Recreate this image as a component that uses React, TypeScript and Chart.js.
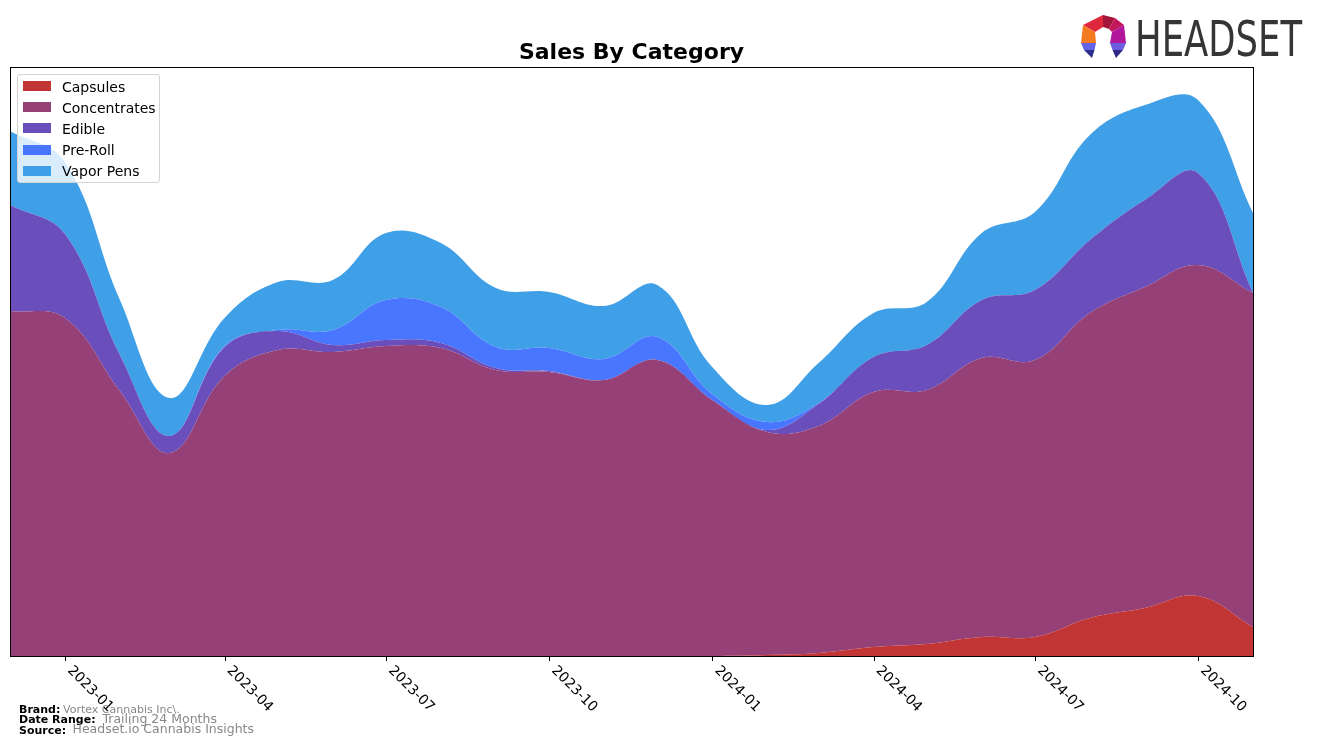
import React, { useEffect, useRef } from "react";
import { Chart, registerables } from "chart.js";

Chart.register(...registerables);

// ---- Data ----
const months = [
  "2022-12", "2023-01", "2023-02", "2023-03", "2023-04", "2023-05", "2023-06", "2023-07",
  "2023-08", "2023-09", "2023-10", "2023-11", "2023-12", "2024-01", "2024-02", "2024-03",
  "2024-04", "2024-05", "2024-06", "2024-07", "2024-08", "2024-09", "2024-10", "2024-11",
];
const capsules = [0, 0, 0, 0, 0, 0, 0, 0, 0, 0, 0, 0, 0, 0, 1, 3, 9, 12, 19, 19, 38, 48, 60, 29];
const concentrates = [345, 338, 265, 203, 280, 306, 304, 310, 308, 286, 284, 276, 296, 256, 223, 227, 255, 254, 279, 277, 305, 321, 331, 334];
const edible = [106, 84, 36, 17, 29, 19, 7, 6, 5, 2, 1, 0, 0, 0, 2, 22, 35, 45, 58, 70, 73, 87, 92, 0];
const preRoll = [0, 0, 0, 0, 1, 1, 15, 40, 36, 21, 23, 21, 23, 6, 8, 1, 0, 0, 0, 0, 0, 0, 0, 0];
const vaporPens = [74, 72, 55, 38, 28, 48, 50, 67, 64, 59, 56, 53, 52, 27, 17, 40, 44, 43, 67, 78, 105, 95, 73, 80];
const tickLabels = ["2023-01", "2023-04", "2023-07", "2023-10", "2024-01", "2024-04", "2024-07", "2024-10"];

const seriesNames = ["Capsules", "Concentrates", "Edible", "Pre-Roll", "Vapor Pens"];
const seriesColors = ["#C13535", "#954177", "#6A4EBB", "#4876FF", "#3FA0E8"];
const seriesValues = [capsules, concentrates, edible, preRoll, vaporPens];
const yMax = 589;

function toTs(m: string): number {
  const [y, mo] = m.split("-").map(Number);
  return Date.UTC(y, mo - 1, 1);
}

const axisPlugin = {
  id: "axisDecor",
  afterDraw(chart: any) {
    const { ctx, chartArea: a, scales } = chart;
    const xs = scales.x;
    ctx.save();
    ctx.strokeStyle = "#000";
    ctx.lineWidth = 1;
    ctx.strokeRect(a.left + 0.5, a.top + 0.5, a.right - a.left, a.bottom - a.top);
    ctx.font = '14px "DejaVu Sans"';
    ctx.fillStyle = "#000";
    ctx.textAlign = "left";
    ctx.textBaseline = "alphabetic";
    for (const t of tickLabels) {
      const x = xs.getPixelForValue(toTs(t));
      const px = Math.round(x) + 0.5;
      ctx.beginPath();
      ctx.moveTo(px, a.bottom + 1);
      ctx.lineTo(px, a.bottom + 5);
      ctx.stroke();
      ctx.save();
      ctx.translate(x + 2, a.bottom + 15);
      ctx.rotate(Math.PI / 4);
      ctx.fillText(t, 0, 0);
      ctx.restore();
    }
    ctx.restore();
  },
};

function Logo() {
  return (
    <>
      <svg
        width={56}
        height={52}
        viewBox="0 0 56 52"
        style={{ position: "absolute", left: 1075, top: 10 }}
      >
        <polygon points="8,15 28,5 28,17 20,22" fill="#E0283C" />
        <polygon points="28,5 40,8 34,19 28,17" fill="#A3163A" />
        <polygon points="40,8 49,15 37,22 34,19" fill="#C2185B" />
        <polygon points="8,15 20,22 21,33 6,33" fill="#F47B20" />
        <polygon points="49,15 51,33 35,33 37,22" fill="#B0179A" />
        <polygon points="6,33 21,33 19.5,40 9,40" fill="#6464E6" />
        <polygon points="9,40 19.5,40 17,48" fill="#2B2E8C" />
        <polygon points="35,33 51,33 48,40 37.5,40" fill="#6B5CE2" />
        <polygon points="37.5,40 48,40 41,48" fill="#2E2A8A" />
      </svg>
      <svg
        width={180}
        height={56}
        style={{ position: "absolute", left: 1130, top: 10 }}
      >
        <text
          x={5}
          y={46}
          fontSize={50}
          fontFamily='"Liberation Sans Narrow", "DejaVu Sans Condensed", "Liberation Sans", sans-serif'
          fill="#353535"
          textLength={167}
          lengthAdjust="spacingAndGlyphs"
        >
          HEADSET
        </text>
      </svg>
    </>
  );
}

const footFont = '"DejaVu Sans", sans-serif';

function FootText(props: { left: number; top: number; size: number; bold?: boolean; color: string; text: string }) {
  return (
    <div
      style={{
        position: "absolute",
        left: props.left,
        top: props.top,
        fontFamily: footFont,
        fontSize: props.size,
        lineHeight: `${props.size}px`,
        fontWeight: props.bold ? "bold" : "normal",
        color: props.color,
        whiteSpace: "nowrap",
      }}
    >
      {props.text}
    </div>
  );
}

export default function App() {
  const canvasRef = useRef<HTMLCanvasElement | null>(null);

  useEffect(() => {
    if (!canvasRef.current) return;
    const datasets = seriesNames.map((name, i) => ({
      label: name,
      data: months.map((m, j) => ({ x: toTs(m), y: seriesValues[i][j] })),
      backgroundColor: seriesColors[i],
      borderColor: seriesColors[i],
      borderWidth: 0,
      pointRadius: 0,
      tension: 0.4,
      fill: i === 0 ? "origin" : "-1",
    }));
    const chart = new Chart(canvasRef.current, {
      type: "line",
      data: { datasets },
      options: {
        animation: false,
        responsive: false,
        maintainAspectRatio: false,
        layout: { padding: { left: 10, right: 64, top: 0, bottom: 91 } },
        scales: {
          x: {
            type: "linear",
            min: toTs(months[0]),
            max: toTs(months[months.length - 1]),
            display: false,
          },
          y: { stacked: true, min: 0, max: yMax, display: false },
        },
        plugins: {
          legend: { display: false },
          tooltip: { enabled: false },
          title: {
            display: true,
            text: "Sales By Category",
            color: "#000",
            font: { family: "DejaVu Sans", size: 22, weight: "bold", lineHeight: 1.2 },
            padding: { top: 40, bottom: 0.6 },
          },
        },
      },
      plugins: [axisPlugin],
    } as any);
    return () => chart.destroy();
  }, []);

  const legendFont = '14px "DejaVu Sans", sans-serif';

  return (
    <div style={{ position: "absolute", left: 0, top: 0, width: 1317, height: 747, background: "#fff", overflow: "hidden" }}>
      <canvas ref={canvasRef} width={1317} height={747} style={{ position: "absolute", left: 0, top: 0 }} />
      <div
        style={{
          position: "absolute",
          left: 17,
          top: 74,
          width: 141,
          height: 107,
          border: "1px solid #d3d3d3",
          borderRadius: 3,
          background: "rgba(255,255,255,0.8)",
        }}
      >
        {seriesNames.map((n, i) => (
          <div key={n} style={{ position: "absolute", left: 0, top: 1.5 + i * 21.2, height: 20, width: 141 }}>
            <div
              style={{
                position: "absolute",
                left: 5,
                top: 4.5,
                width: 28,
                height: 10,
                background: seriesColors[i],
              }}
            />
            <div
              style={{
                position: "absolute",
                left: 44,
                top: 0,
                font: legendFont,
                lineHeight: "20px",
                color: "#000",
                whiteSpace: "nowrap",
              }}
            >
              {n}
            </div>
          </div>
        ))}
      </div>
      <Logo />
      <FootText left={19} top={703.7} size={11} bold color="#000" text="Brand:" />
      <FootText left={63} top={703.7} size={11} color="#888" text="Vortex Cannabis Inc\." />
      <FootText left={19} top={714.2} size={11} bold color="#000" text="Date Range:" />
      <FootText left={102.5} top={712.9} size={12.5} color="#888" text="Trailing 24 Months" />
      <FootText left={19} top={724.7} size={11} bold color="#000" text="Source:" />
      <FootText left={72.5} top={723.4} size={12.5} color="#888" text="Headset.io Cannabis Insights" />
    </div>
  );
}
